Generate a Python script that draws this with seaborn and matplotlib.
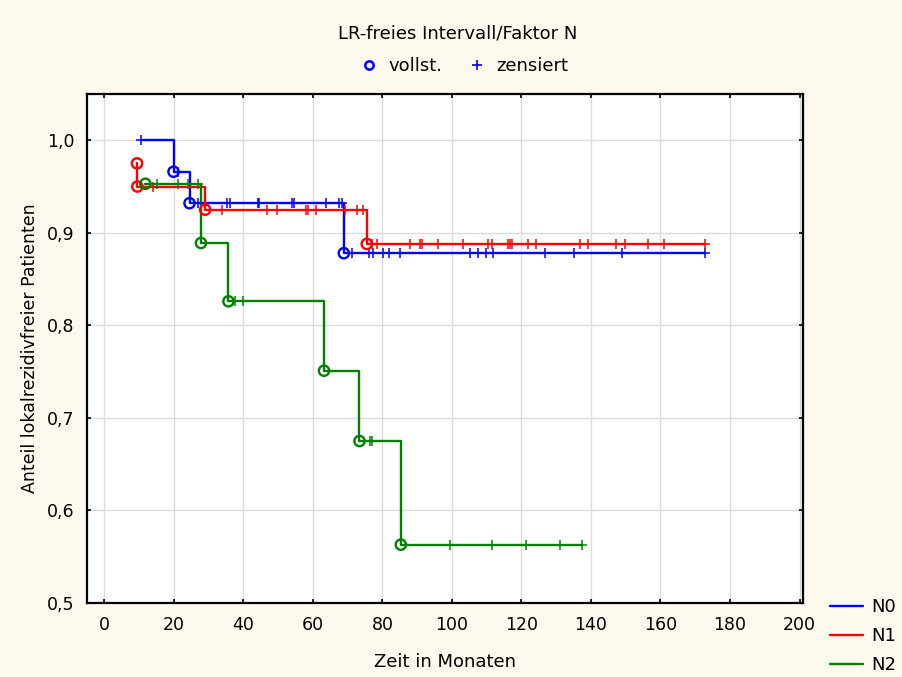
import numpy as np
import pandas as pd
import matplotlib
matplotlib.use("Agg")
import matplotlib.pyplot as plt
from matplotlib.ticker import FuncFormatter
from matplotlib.lines import Line2D
import seaborn as sns

# ---- data ----
groups = ["N0", "N1", "N2"]
colors = {"N0": "#0000FF", "N1": "#FF0000", "N2": "#008000"}

n0_time = [10.6, 19.9, 21.3, 24.5, 26.8, 35.3, 36.2, 44.1, 44.6, 53.9, 54.6, 63.7, 67.5, 68.4,
           68.9, 71.2, 76.0, 77.2, 80.3, 82.0, 85.1, 105.2, 107.6, 109.7, 111.9, 126.7, 135.1,
           148.9, 172.7]
n0_surv = [1.0, 0.966, 0.966, 0.932, 0.932, 0.932, 0.932, 0.932, 0.932, 0.932, 0.932, 0.932,
           0.932, 0.932, 0.878, 0.878, 0.878, 0.878, 0.878, 0.878, 0.878, 0.878, 0.878, 0.878,
           0.878, 0.878, 0.878, 0.878, 0.878]
n0_event = [0, 1, 0, 1, 0, 0, 0, 0, 0, 0, 0, 0, 0, 0,
            1, 0, 0, 0, 0, 0, 0, 0, 0, 0, 0, 0, 0, 0, 0]

n1_time = [9.4, 9.5, 14.0, 29.0, 33.8, 46.8, 49.8, 58.0, 58.7, 60.9, 69.3, 72.6, 74.5,
           75.5, 77.0, 78.4, 87.9, 90.8, 91.3, 96.1, 103.2, 110.4, 111.4, 116.2, 116.7, 117.2,
           121.9, 124.1, 136.8, 139.2, 147.3, 149.7, 156.4, 161.0, 172.7]
n1_surv = [0.975, 0.950, 0.950, 0.925, 0.925, 0.925, 0.925, 0.925, 0.925, 0.925, 0.925, 0.925,
           0.925, 0.888, 0.888, 0.888, 0.888, 0.888, 0.888, 0.888, 0.888, 0.888, 0.888, 0.888,
           0.888, 0.888, 0.888, 0.888, 0.888, 0.888, 0.888, 0.888, 0.888, 0.888, 0.888]
n1_event = [1, 1, 0, 1, 0, 0, 0, 0, 0, 0, 0, 0, 0,
            1, 0, 0, 0, 0, 0, 0, 0, 0, 0, 0, 0, 0, 0, 0, 0, 0, 0, 0, 0, 0, 0]

n2_time = [11.8, 15.0, 21.3, 24.0, 26.8, 27.8, 35.7, 37.6, 40.0, 63.2, 73.4, 76.4, 76.9,
           85.3, 99.4, 111.4, 121.3, 131.0, 137.4]
n2_surv = [0.953, 0.953, 0.953, 0.953, 0.953, 0.889, 0.826, 0.826, 0.826, 0.751, 0.675,
           0.675, 0.675, 0.563, 0.563, 0.563, 0.563, 0.563, 0.563]
n2_event = [1, 0, 0, 0, 0, 1, 1, 0, 0, 1, 1, 0, 0,
            1, 0, 0, 0, 0, 0]

x_ticks = [0, 20, 40, 60, 80, 100, 120, 140, 160, 180, 200]
y_ticks = [0.5, 0.6, 0.7, 0.8, 0.9, 1.0]

title = "LR-freies Intervall/Faktor N"
xlabel = "Zeit in Monaten"
ylabel = "Anteil lokalrezidivfreier Patienten"

frames = []
for g, t, s, e in [("N0", n0_time, n0_surv, n0_event),
                   ("N1", n1_time, n1_surv, n1_event),
                   ("N2", n2_time, n2_surv, n2_event)]:
    frames.append(pd.DataFrame({"group": g, "time": t, "surv": s, "event": e}))
df = pd.concat(frames, ignore_index=True)

# ---- style ----
sns.set_theme(style="white")
plt.rcParams["font.family"] = ["DejaVu Sans"]
plt.rcParams["text.color"] = "black"
plt.rcParams["axes.labelcolor"] = "black"
bg = "#FEF9EE"
fs = 13

fig = plt.figure(figsize=(9.02, 6.77), dpi=100, facecolor=bg)
ax = fig.add_axes([87 / 902, 1 - 603 / 677, (803 - 87) / 902, (603 - 94) / 677])
ax.set_facecolor("white")

ax.grid(True, color="#DCDCDC", linewidth=1.0)
ax.set_axisbelow(True)

sns.lineplot(data=df, x="time", y="surv", hue="group", palette=colors,
             estimator=None, sort=False, drawstyle="steps-post", linewidth=1.7,
             legend=False, ax=ax, zorder=3)

for g in groups:
    sub = df[(df.group == g) & (df.event == 1)]
    before = len(ax.collections)
    sns.scatterplot(data=sub, x="time", y="surv", marker="o", s=55, color=colors[g],
                    linewidth=1.7, ax=ax, legend=False, zorder=4)
    for coll in ax.collections[before:]:
        coll.set_facecolor("none")
        coll.set_edgecolor(colors[g])
    sub = df[(df.group == g) & (df.event == 0)]
    before = len(ax.collections)
    sns.scatterplot(data=sub, x="time", y="surv", marker="+", s=45, color=colors[g],
                    linewidth=1.1, ax=ax, legend=False, zorder=4)
    for coll in ax.collections[before:]:
        coll.set_edgecolor(colors[g])
        coll.set_facecolor(colors[g])

ax.set_xlim(-5, 201)
ax.set_ylim(0.5, 1.05)
ax.set_xticks(x_ticks)
ax.set_yticks(y_ticks)
ax.yaxis.set_major_formatter(FuncFormatter(lambda v, p: f"{v:.1f}".replace(".", ",")))
ax.tick_params(axis="both", which="major", direction="in", length=3, width=1.2,
               colors="black", labelcolor="black", labelsize=12.5, top=True, right=True,
               pad=9, labeltop=False, labelright=False, bottom=True, left=True)
for sp in ax.spines.values():
    sp.set_color("black")
    sp.set_linewidth(1.6)

ax.set_xlabel(xlabel, fontsize=fs, labelpad=14, color="black")
ax.set_ylabel(ylabel, fontsize=12.5, labelpad=6, color="black")

fig.text(458 / 902, 1 - 33 / 677, title, ha="center", va="center", fontsize=fs,
         color="black")

# marker legend (top)
top_handles = [Line2D([], [], marker="o", linestyle="none", markerfacecolor="none",
                      markeredgecolor="#0000FF", markeredgewidth=1.8, markersize=6),
               Line2D([], [], marker="+", linestyle="none", color="#0000FF",
                      markeredgewidth=1.2, markersize=7)]
lg1 = fig.legend(top_handles, ["vollst.", "zensiert"], loc="center", ncol=2,
                 bbox_to_anchor=(464 / 902, 1 - 66 / 677), frameon=False, fontsize=fs,
                 handlelength=1.0, handletextpad=0.6, columnspacing=1.4)
for t in lg1.get_texts():
    t.set_color("black")

# line legend (bottom right)
line_handles = [Line2D([], [], color=colors[g], linewidth=1.7) for g in groups]
lg2 = fig.legend(line_handles, groups, loc="center left",
                 bbox_to_anchor=(817 / 902, 1 - 636 / 677), frameon=False, fontsize=fs,
                 handlelength=1.85, handletextpad=0.45, labelspacing=0.6, borderaxespad=0.3)
for t in lg2.get_texts():
    t.set_color("black")

fig.savefig("out.png", dpi=100, facecolor=bg)
